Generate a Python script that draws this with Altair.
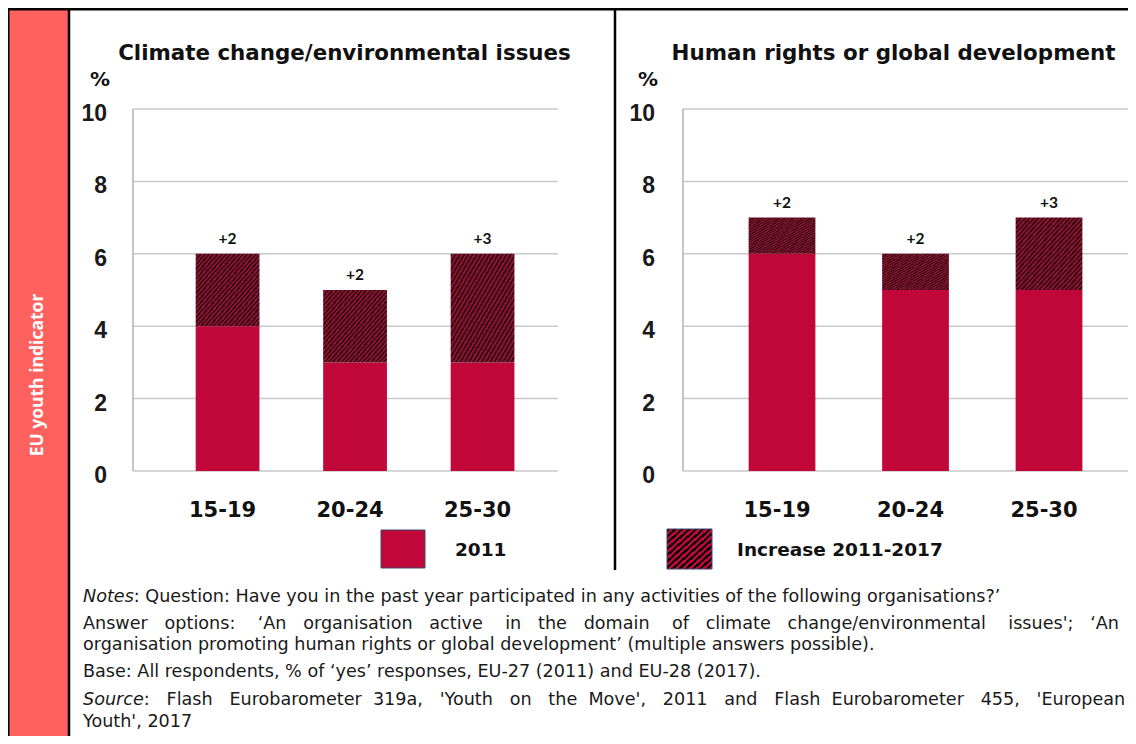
import altair as alt
import pandas as pd

# ---------------- data ----------------
categories = ["15-19", "20-24", "25-30"]
climate_2011 = [4, 3, 3]
climate_2017 = [6, 5, 6]
climate_labels = ["+2", "+2", "+3"]
human_2011 = [6, 5, 5]
human_2017 = [7, 6, 7]
human_labels = ["+2", "+2", "+3"]
y_ticks = [0, 2, 4, 6, 8, 10]
panel_titles = ["Climate change/environmental issues", "Human rights or global development"]
legend_labels = ["2011", "Increase 2011-2017"]
side_label = "EU youth indicator"
note1_italic = "Notes"
note1_rest = ": Question: Have you in the past year participated in any activities of the following organisations?\u2019"
note2_words = ["Answer", "options:", "\u2018An", "organisation", "active", "in", "the", "domain", "of",
               "climate", "change/environmental", "issues';", "\u2018An"]
note3 = "organisation promoting human rights or global development\u2019 (multiple answers possible)."
note4 = "Base: All respondents, % of \u2018yes\u2019 responses, EU-27 (2011) and EU-28 (2017)."
note5_italic = "Source"
note5_words = [":", "Flash", "Eurobarometer", "319a,", "'Youth", "on", "the", "Move',", "2011", "and",
               "Flash", "Eurobarometer", "455,", "'European"]
note6 = "Youth', 2017"

# ---------------- style ----------------
C2011 = "#C1073A"
NBSP = "\u00a0"


def hatch(n, dark, light):
    stops = []
    for i in range(n):
        a, b, c = i / n, (i + 0.5) / n, (i + 1) / n
        stops += [{"offset": a, "color": dark}, {"offset": b, "color": dark},
                  {"offset": b, "color": light}, {"offset": c, "color": light}]
    return {"gradient": "linear", "x1": 0, "y1": 0, "x2": 1, "y2": 1, "stops": stops}


hatch_bar = hatch(30, "#3e0814", "#851530")
hatch_leg = hatch(13, "#14040a", "#c1073a")


def justify(words, extra):
    gaps = len(words) - 1
    out = words[0]
    done = 0
    for i in range(1, len(words)):
        target = round(extra * i / gaps)
        k = target - done
        done = target
        out += " " + NBSP * k + words[i]
    return out


one = pd.DataFrame({"k": [0]})


def deco_rect(x, x2, y, y2, **kw):
    return alt.Chart(one).mark_rect(**kw).encode(
        x=alt.value(x), x2=alt.value(x2), y=alt.value(y), y2=alt.value(y2))


def deco_rule(x, x2, y, y2, **kw):
    return alt.Chart(one).mark_rule(**kw).encode(
        x=alt.value(x), x2=alt.value(x2), y=alt.value(y), y2=alt.value(y2))


def deco_text(text, x, y, **kw):
    return alt.Chart(one).mark_text(**kw).encode(
        x=alt.value(x), y=alt.value(y), text=alt.value(text))


Y0, Y1 = 463, 101


def panel(v2011, v2017, labels, x0, x1, tick_x, title, title_x):
    df = pd.DataFrame({"age": categories, "v2011": v2011, "v2017": v2017, "label": labels})
    ticks = pd.DataFrame({"tick": y_ticks})
    xs = alt.Scale(type="band", domain=categories, range=[x0, x1], paddingInner=0.5,
                   paddingOuter=0.4167, align=0.59)
    ys = alt.Scale(domain=[0, 10], range=[Y0, Y1], nice=False, zero=True)
    X = alt.X("age:N", scale=xs, axis=None)
    grid = alt.Chart(ticks).mark_rule(color="#c9c9c9", strokeWidth=1.5).encode(
        y=alt.Y("tick:Q", scale=ys, axis=None), x=alt.value(x0), x2=alt.value(x1))
    yline = deco_rule(x0, x0, Y1, Y0, color="#b3b3b3", strokeWidth=1.5)
    ticklab = alt.Chart(ticks).mark_text(
        align="right", baseline="alphabetic", dy=12, font="Liberation Sans",
        fontWeight="bold", fontSize=23, color="#1a1a1a").encode(
        y=alt.Y("tick:Q", scale=ys, axis=None), x=alt.value(tick_x), text="tick:Q")
    base = alt.Chart(df).mark_bar(color=C2011).encode(
        x=X, y=alt.Y("v2011:Q", scale=ys, axis=None))
    inc = alt.Chart(df).mark_bar(fill=hatch_bar).encode(
        x=X, y=alt.Y("v2017:Q", scale=ys, axis=None), y2="v2011:Q")
    vlab = alt.Chart(df).mark_text(
        baseline="alphabetic", dy=-10, font="Lato", fontWeight="bold", fontSize=15.5,
        color="#111111").encode(
        x=X, y=alt.Y("v2017:Q", scale=ys, axis=None), text="label:N")
    xlab = alt.Chart(df).mark_text(
        baseline="alphabetic", dx=-5, font="DejaVu Sans", fontWeight="bold", fontSize=21,
        color="#111111").encode(x=X, y=alt.value(509), text="age:N")
    ttl = deco_text(title, title_x, 52, font="DejaVu Sans",
                    fontWeight="bold", fontSize=21.4, color="#111111", baseline="alphabetic")
    pct = deco_text("%", tick_x - 7, 78, font="DejaVu Sans", fontWeight="bold",
                    fontSize=20, color="#111111", baseline="alphabetic")
    return [grid, yline, ticklab, base, inc, vlab, xlab, ttl, pct]


layers = []
# frame
layers.append(deco_rect(0, 60, 0, 728, color="#FF615E"))
layers.append(deco_rule(61, 61, 0, 728, color="#000000", strokeWidth=2.5))
layers.append(deco_rule(0.75, 0.75, 0, 728, color="#000000", strokeWidth=1.5))
layers.append(deco_rule(0, 1122, 1.2, 1.2, color="#000000", strokeWidth=2.5))
layers.append(deco_rule(607, 607, 0, 562, color="#000000", strokeWidth=2.5))
layers.append(deco_text(side_label, 30, 367, angle=270, font="Open Sans", fontWeight="bold",
                        fontSize=17.5, color="#ffffff"))

layers += panel(climate_2011, climate_2017, climate_labels, 125, 550, 99, panel_titles[0], 336.5)
layers += panel(human_2011, human_2017, human_labels, 675, 1120, 647, panel_titles[1], 885.5)

# legend
layers.append(deco_rect(373, 417, 522, 560, color=C2011, stroke="#3e4a70", strokeWidth=1))
layers.append(deco_text(legend_labels[0], 447, 548, align="left", baseline="alphabetic",
                        font="DejaVu Sans", fontWeight="bold", fontSize=18.5, color="#111111"))
layers.append(deco_rect(659, 704, 521, 561, fill=hatch_leg, stroke="#3e4a70", strokeWidth=1))
layers.append(deco_text(legend_labels[1], 729, 548, align="left", baseline="alphabetic",
                        font="DejaVu Sans", fontWeight="bold", fontSize=18.5, color="#111111"))

# notes
NF = dict(align="left", baseline="alphabetic", font="DejaVu Sans", fontSize=17.6, color="#1a1a1a")
layers.append(deco_text(note1_italic, 75, 594, fontStyle="italic", **NF))
layers.append(deco_text(note1_rest, 125.8, 594, **NF))
layers.append(deco_text(justify(note2_words, 28), 75, 621, **NF))
layers.append(deco_text(note3, 75, 642, **NF))
layers.append(deco_text(note4, 75, 669, **NF))
layers.append(deco_text(note5_italic, 75, 697, fontStyle="italic", **NF))
layers.append(deco_text(justify(note5_words, 23), 135.8, 697, **NF))
layers.append(deco_text(note6, 75, 719, **NF))

chart = alt.layer(*layers).resolve_scale(x="independent", y="independent").properties(
    width=1120, height=728, autosize=alt.AutoSizeParams(type="none"), padding=0,
    background="#ffffff"
).configure_view(strokeWidth=0)

chart.save("out.html", embed_options={"renderer": "svg", "actions": False})
